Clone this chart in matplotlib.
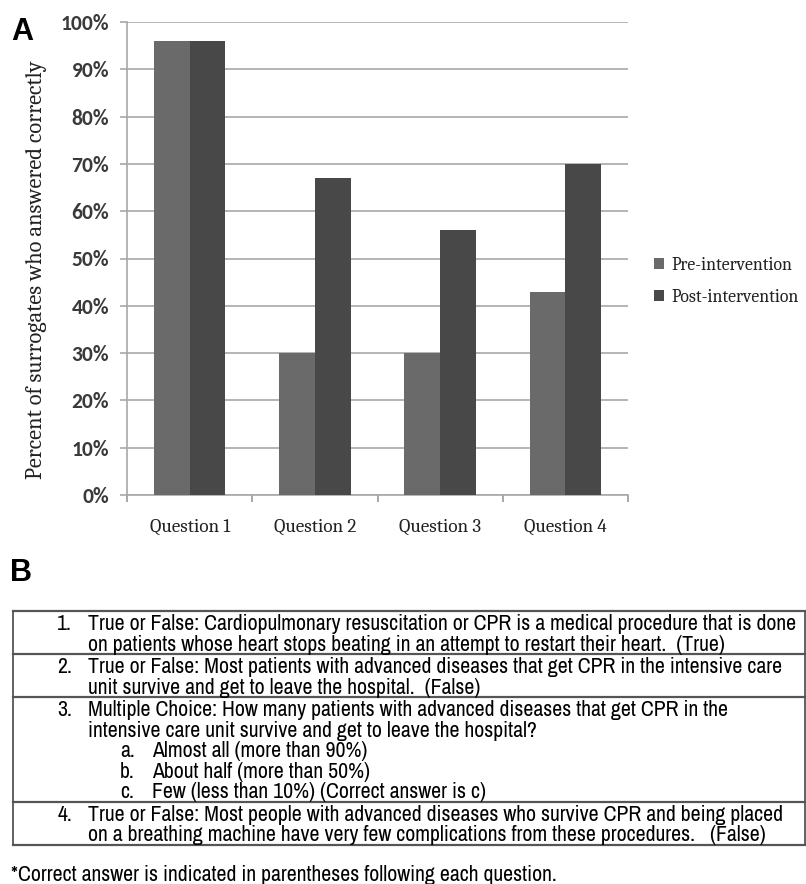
import matplotlib
matplotlib.use("Agg")
import matplotlib.pyplot as plt
import numpy as np

# chart data
questions = ["Question 1", "Question 2", "Question 3", "Question 4"]
pre = [96, 30, 30, 43]
post = [96, 67, 56, 70]
series_names = ["Pre-intervention", "Post-intervention"]
y_ticks = [0, 10, 20, 30, 40, 50, 60, 70, 80, 90, 100]

# table text
row_numbers = ["1.", "2.", "3.", "4."]
row_lines = [
    ["True or False: Cardiopulmonary resuscitation or CPR is a medical procedure that is done",
     "on patients whose heart stops beating in an attempt to restart their heart.  (True)"],
    ["True or False: Most patients with advanced diseases that get CPR in the intensive care",
     "unit survive and get to leave the hospital.  (False)"],
    ["Multiple Choice: How many patients with advanced diseases that get CPR in the",
     "intensive care unit survive and get to leave the hospital?"],
    ["True or False: Most people with advanced diseases who survive CPR and being placed",
     "on a breathing machine have very few complications from these procedures.   (False)"],
]
sub_letters = ["a.", "b.", "c."]
sub_items = ["Almost all (more than 90%)", "About half (more than 50%)",
             "Few (less than 10%) (Correct answer is c)"]
footnote = "*Correct answer is indicated in parentheses following each question."

W, H = 806, 884
fig = plt.figure(figsize=(W / 100, H / 100), dpi=100)
renderer = fig.canvas.get_renderer()

serif = ["Caladea", "Liberation Serif", "DejaVu Serif"]
narrow = ["Archivo Narrow", "Roboto Condensed", "Liberation Sans", "DejaVu Sans"]


def fit(t, target, vertical=False):
    # rescale a text so its length matches the reference
    bb = t.get_window_extent(renderer)
    size = bb.height if vertical else bb.width
    t.set_fontsize(t.get_fontsize() * target / size)


# ---- panel A ----
ax = fig.add_axes([127 / W, 1 - 495 / H, (628 - 127) / W, (495 - 22) / H])
x = np.arange(len(questions))
bw = 0.2857
ax.bar(x - bw / 2, pre, bw, color="#6a6a6a", label=series_names[0], zorder=3)
ax.bar(x + bw / 2, post, bw, color="#484848", label=series_names[1], zorder=3)
ax.set_xlim(-0.5, len(questions) - 0.5)
ax.set_ylim(0, 100)
ax.set_yticks(y_ticks)
ax.set_yticklabels(["%d%%" % v for v in y_ticks], fontfamily=["Carlito", "DejaVu Sans"],
                   fontweight="bold", fontsize=15.5, color="#3a3a3a")
ax.yaxis.grid(True, color="#a8a8a8", linewidth=1.2, zorder=0)
ax.set_xticks(np.arange(len(questions) + 1) - 0.5)
ax.set_xticklabels([])
ax.set_xticks(x, minor=True)
ax.set_xticklabels(questions, minor=True, fontfamily=serif, fontsize=13.8,
                   color="#222222")
ax.tick_params(axis="x", which="minor", length=0, pad=17)
ax.tick_params(axis="x", which="major", length=5, color="#999999", width=1.2)
ax.tick_params(axis="y", length=5, color="#a8a8a8", width=1.2, pad=8)
for s in ["top", "right"]:
    ax.spines[s].set_visible(False)
for s in ["left", "bottom"]:
    ax.spines[s].set_color("#a8a8a8")
    ax.spines[s].set_linewidth(1.2)
ylab = ax.set_ylabel("Percent of surrogates who answered correctly", fontfamily=serif,
                     fontsize=16, color="#222222", labelpad=10)
fit(ylab, 420, vertical=True)
ax.yaxis.set_label_coords(-80 / 501, (495 - 270) / 473)
leg = ax.legend(loc="center left", bbox_to_anchor=(1.02, 0.452), frameon=False,
                prop={"family": serif, "size": 12.8}, handlelength=0.55,
                handleheight=0.55, handletextpad=0.45, labelspacing=0.85)
for t in leg.get_texts():
    t.set_color("#222222")

# ---- overlay for letters and panel B ----
ov = fig.add_axes([0, 0, 1, 1])
ov.set_xlim(0, W)
ov.set_ylim(H, 0)
ov.axis("off")

ov.text(11, 32, "A", fontsize=22, fontweight="bold", fontfamily="Liberation Sans",
        va="center", ha="left")
ov.text(10, 573, "B", fontsize=22, fontweight="bold", fontfamily="Liberation Sans",
        va="center", ha="left")

tcol = "#000000"
probe = ov.text(88, 0, row_lines[0][0], fontsize=14, fontfamily=narrow)
fit(probe, 709)
tfs = probe.get_fontsize()
probe.remove()

line_h = 20.6
top = 611.0
for i, (num, lines) in enumerate(zip(row_numbers, row_lines)):
    all_lines = [(88, l) for l in lines]
    if i == 2:
        all_lines += [(152, s) for s in sub_items]
    y0 = top + 13
    ov.text(72, y0, num, ha="right", va="center", fontsize=tfs, fontfamily=narrow,
            color=tcol)
    for k, (xx, l) in enumerate(all_lines):
        ov.text(xx, y0 + k * line_h, l, ha="left", va="center", fontsize=tfs,
                fontfamily=narrow, color=tcol)
    if i == 2:
        for k, letter in enumerate(sub_letters):
            ov.text(120, y0 + (2 + k) * line_h, letter, ha="left", va="center",
                    fontsize=tfs, fontfamily=narrow, color=tcol)
    ov.plot([13, 805], [top, top], color="#555555", lw=1.6)
    top = top + len(all_lines) * line_h + 1.8
ov.plot([13, 805], [top, top], color="#555555", lw=1.6)
ov.plot([13, 13], [611, top], color="#555555", lw=1.3)
ov.plot([805, 805], [611, top], color="#555555", lw=1.3)

ov.text(11, 875, footnote, ha="left", va="center", fontsize=tfs, fontfamily=narrow,
        color=tcol)

fig.savefig("out.png", dpi=100)
